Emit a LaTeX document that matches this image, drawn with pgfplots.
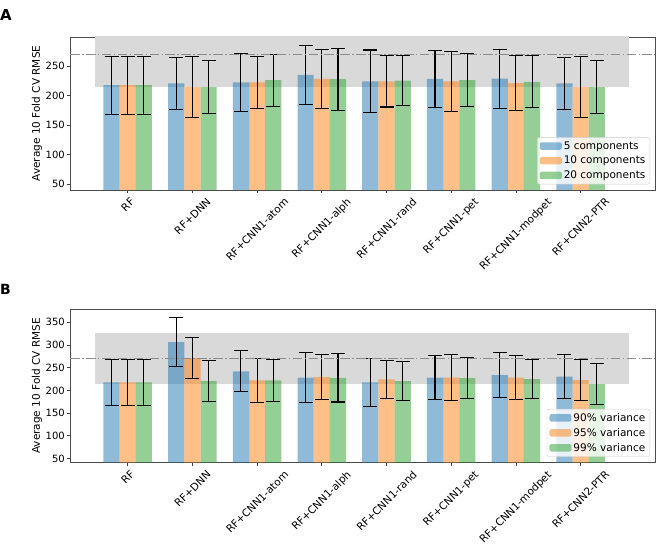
\documentclass[border=0pt]{standalone}
\usepackage{fontspec}
\setmainfont{DejaVu Sans}
\usepackage{graphicx}
\usepackage{pgfplots}
\usepackage{pgfplotstable}
\pgfplotsset{compat=1.18}
\definecolor{tabblue}{HTML}{1F77B4}
\definecolor{taborange}{HTML}{FF7F0E}
\definecolor{tabgreen}{HTML}{2CA02C}

\pgfplotstableread{
x  b    be   o    oe   g    ge
0  217.5 49  217.5 49  217.5 49
1  220.5 44  214   51.5 214  45
2  222   49  222   44   226  44
3  235   50  228   50.5 227.5 52.5
4  224   53  224   43.5 225  42.5
5  228   48  224   51   226  45
6  228.5 50  221   47   223  44
7  220.5 44  214   51.5 214  45
}\dataA

\pgfplotstableread{
x  b    be   o    oe   g    ge
0  217.5 50  217.5 50  217.5 50
1  306   54  271   45   221  44.5
2  242   45  222   49   222  46
3  228   55  229   50   227.5 53
4  217.5 52  224   42.6 220.5 42.6
5  228   48  228   50   227  45.6
6  233.5 49.6 228  48   225  43
7  230.5 47.5 222.5 45.7 214 45
}\dataB

\pgfplotsset{
  panel/.style={
    scale only axis, width=585bp,
    xmin=-0.892, xmax=8.15,
    axis line style={black!70, line width=0.8bp},
    tick style={black!75, line width=0.8bp},
    tick align=outside, major tick length=3.5bp,
    xtick pos=bottom, ytick pos=left,
    xtick={0,...,7},
    xticklabels={\rotatebox{45}{RF},\rotatebox{45}{RF+DNN},\rotatebox{45}{RF+CNN1-atom},\rotatebox{45}{RF+CNN1-alph},\rotatebox{45}{RF+CNN1-rand},\rotatebox{45}{RF+CNN1-pet},\rotatebox{45}{RF+CNN1-modpet},\rotatebox{45}{RF+CNN2-PTR}},
    x tick label style={anchor=north, inner sep=0pt, yshift=-3.5bp, font=\fontsize{10.5bp}{12.6bp}\selectfont},
    y tick label style={font=\fontsize{10bp}{12bp}\selectfont, inner xsep=1.5bp},
    /pgf/number format/assume math mode=true,
    ylabel={Average 10 Fold CV RMSE},
    ylabel style={at={(axis description cs:-0.0564,0.5)}, anchor=center, font=\fontsize{10.5bp}{12.6bp}\selectfont},
    legend cell align=left,
    legend image code/.code={\fill[##1] (0bp,-3.75bp) rectangle (22bp,3.75bp);},
    legend style={draw=black!20, fill=white, fill opacity=0.8, text opacity=1,
      rounded corners=2bp, font=\fontsize{10.5bp}{12.6bp}\selectfont,
      inner xsep=2.5bp, inner ysep=2bp, row sep=1.5bp},
  },
  errs/.style={
    error bars/.cd, y dir=both, y explicit,
    error mark=|,
    error bar style={black, line width=1.1bp, opacity=1},
    error mark options={black, line width=1.1bp, mark size=7bp, opacity=1}},
  bars/.style={ybar, bar width=0.25, bar shift=0, draw=none, fill=#1, fill opacity=0.5, errs},
}

\begin{document}
\begin{tikzpicture}[x=1bp,y=1bp]
\path[use as bounding box] (0,0) rectangle (664,554);

\node[anchor=west, inner sep=0pt, font=\fontsize{15bp}{18bp}\selectfont\bfseries] at (0,539) {A};
\node[anchor=west, inner sep=0pt, font=\fontsize{14bp}{17bp}\selectfont\bfseries] at (0,264.5) {B};

\begin{axis}[panel, at={(70bp,364bp)}, anchor=south west, height=153bp,
  ymin=40, ymax=299, ytick={50,100,150,200,250},
  legend style={at={(0.9915,0.037)}, anchor=south east}]
  \addplot[fill=black!15, draw=none, forget plot] coordinates {(-0.5,214) (7.75,214) (7.75,326) (-0.5,326)} -- cycle;
  \addplot[bars=tabblue] table[x expr=\thisrow{x}-0.25, y=b, y error=be] {\dataA};
  \addplot[bars=taborange] table[x=x, y=o, y error=oe] {\dataA};
  \addplot[bars=tabgreen] table[x expr=\thisrow{x}+0.25, y=g, y error=ge] {\dataA};
  \addplot[black!45, line width=1.2bp, dash pattern=on 9.6bp off 2.4bp on 1.5bp off 2.4bp, forget plot] coordinates {(-0.892,270) (8.15,270)};
  \legend{5 components, 10 components, 20 components}
\end{axis}

\begin{axis}[panel, at={(70bp,91.3bp)}, anchor=south west, height=153.7bp,
  ymin=41, ymax=379, ytick={50,100,150,200,250,300,350},
  legend style={at={(0.9915,0.039)}, anchor=south east}]
  \addplot[fill=black!15, draw=none, forget plot] coordinates {(-0.5,214) (7.75,214) (7.75,326) (-0.5,326)} -- cycle;
  \addplot[bars=tabblue] table[x expr=\thisrow{x}-0.25, y=b, y error=be] {\dataB};
  \addplot[bars=taborange] table[x=x, y=o, y error=oe] {\dataB};
  \addplot[bars=tabgreen] table[x expr=\thisrow{x}+0.25, y=g, y error=ge] {\dataB};
  \addplot[black!45, line width=1.2bp, dash pattern=on 9.6bp off 2.4bp on 1.5bp off 2.4bp, forget plot] coordinates {(-0.892,270) (8.15,270)};
  \legend{90\% variance, 95\% variance, 99\% variance}
\end{axis}
\end{tikzpicture}
\end{document}
